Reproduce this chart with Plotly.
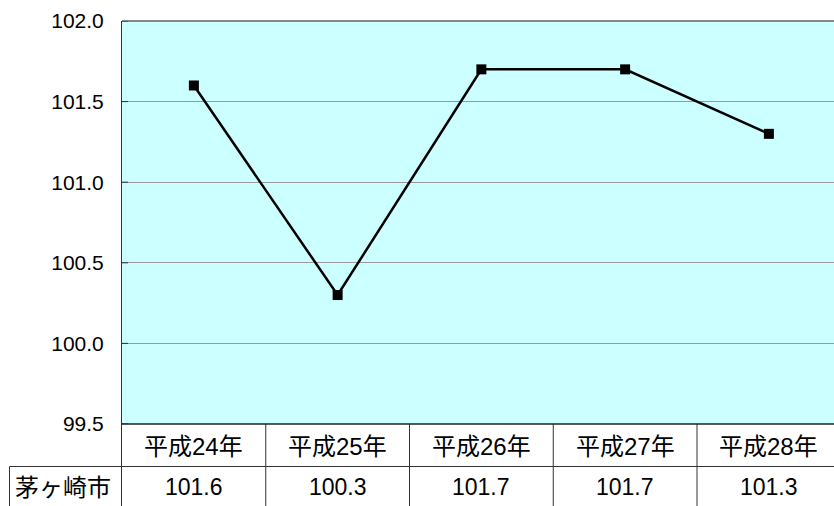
import plotly.graph_objects as go

categories = ["平成24年", "平成25年", "平成26年", "平成27年", "平成28年"]
values = [101.6, 100.3, 101.7, 101.7, 101.3]
series_name = "茅ヶ崎市"
y_ticks = [99.5, 100.0, 100.5, 101.0, 101.5, 102.0]

W, H = 834, 506
L, R, T, B = 122, 0, 21, 82
plot_h = H - T - B
plot_w = W - L - R

FONT = "Liberation Sans, Noto Sans CJK JP, sans-serif"

def py(pixel_y):
    # pixel y (from top) -> paper y
    return (H - B - pixel_y) / plot_h

def px(pixel_x):
    return (pixel_x - L) / plot_w

xs = list(range(len(categories)))
step_px = 143.75
x_max = (plot_w) / step_px - 0.5

fig = go.Figure()
fig.add_trace(go.Scatter(
    x=xs, y=values, mode="lines+markers",
    line=dict(color="black", width=2.5),
    marker=dict(symbol="square", size=10, color="black"),
    showlegend=False, cliponaxis=False,
))

shapes = []
# top border (gray)
shapes.append(dict(type="line", xref="paper", yref="paper", x0=0, x1=1, y0=1, y1=1,
                   line=dict(color="#888888", width=2)))
# inside tick marks on the value axis
for v in y_ticks:
    shapes.append(dict(type="line", xref="paper", yref="y", x0=px(121), x1=px(128),
                       y0=v, y1=v, line=dict(color="#333333", width=1)))
# table vertical lines
for i in range(len(categories) - 1):
    shapes.append(dict(type="line", xref="x", yref="paper", x0=i + 0.5, x1=i + 0.5,
                       y0=0, y1=py(H + 2), line=dict(color="#333333", width=1)))
# left edge line through table
shapes.append(dict(type="line", xref="paper", yref="paper", x0=px(121.5), x1=px(121.5),
                   y0=1, y1=py(H + 2), line=dict(color="#333333", width=1)))
# bottom of plot
shapes.append(dict(type="line", xref="paper", yref="paper", x0=px(121), x1=1,
                   y0=0, y1=0, line=dict(color="#222222", width=1.5)))
# row separator
shapes.append(dict(type="line", xref="paper", yref="paper", x0=px(9.5), x1=1,
                   y0=py(466.5), y1=py(466.5), line=dict(color="#333333", width=1)))
# left border of series name cell
shapes.append(dict(type="line", xref="paper", yref="paper", x0=px(9.5), x1=px(9.5),
                   y0=py(466.5), y1=py(H + 2), line=dict(color="#333333", width=1)))

annotations = []
for i, c in enumerate(categories):
    annotations.append(dict(x=i, y=py(446), xref="x", yref="paper", text=c,
                            showarrow=False, font=dict(family=FONT, size=24, color="black"),
                            xanchor="center", yanchor="middle"))
    annotations.append(dict(x=i, y=py(487), xref="x", yref="paper", text=f"{values[i]:.1f}",
                            showarrow=False, font=dict(family=FONT, size=23, color="black"),
                            xanchor="center", yanchor="middle"))
annotations.append(dict(x=px(63), y=py(487), xref="paper", yref="paper", text=series_name,
                        showarrow=False, font=dict(family=FONT, size=24, color="black"),
                        xanchor="center", yanchor="middle"))

fig.update_layout(
    width=W, height=H,
    margin=dict(l=L, r=R, t=T, b=B, pad=0),
    paper_bgcolor="white",
    plot_bgcolor="#CCFFFF",
    shapes=shapes,
    annotations=annotations,
    xaxis=dict(range=[-0.5, x_max], showticklabels=False, showgrid=False,
               zeroline=False, showline=False, ticks="", fixedrange=True),
    yaxis=dict(range=[99.5, 102.0], tickvals=y_ticks,
               ticktext=[f"{v:.1f}" for v in y_ticks],
               showgrid=True, gridcolor="#999999", gridwidth=1,
               zeroline=False, showline=True, linecolor="#333333", linewidth=1,
               ticks="outside", ticklen=13, tickcolor="rgba(0,0,0,0)",
               tickfont=dict(family=FONT, size=21, color="black")),
)

fig.write_html("out.html")
